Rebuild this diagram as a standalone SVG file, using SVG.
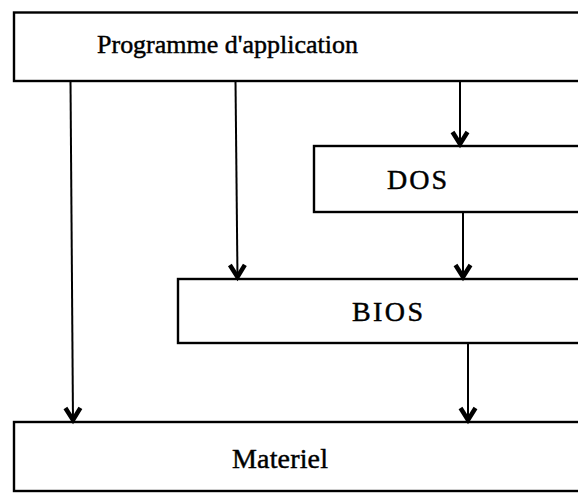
<svg xmlns="http://www.w3.org/2000/svg" width="578" height="493" viewBox="0 0 578 493">
  <style>
    .box { fill: #ffffff; stroke: #000000; stroke-width: 2.4; }
    .label { font-family: "Liberation Serif", "Times New Roman", serif; font-size: 28px; fill: #000000; stroke: #000000; stroke-width: 0.45; }
    .title { font-size: 26px; }
    .link { fill: none; stroke: #000000; stroke-width: 2; }
  </style>
  <defs>
    <!-- Thick open chevron used as the arrowhead -->
    <marker id="chevron" viewBox="-18 -11 22 22" markerUnits="userSpaceOnUse" markerWidth="22" markerHeight="22" refX="0" refY="0" orient="auto" overflow="visible">
      <path d="M -13,-7.5 L -1,0 L -13,7.5" fill="none" stroke="#000000" stroke-width="4.5" stroke-linejoin="miter"/>
    </marker>
  </defs>
  <rect width="578" height="493" fill="#ffffff"/>

  <g id="app">
    <rect class="box" x="14" y="12.5" width="600" height="68.5"/>
    <text class="label title" x="97" y="53" textLength="261" lengthAdjust="spacing">Programme  d'application</text>
  </g>

  <g id="dos">
    <rect class="box" x="314" y="146" width="300" height="66"/>
    <text class="label" x="387" y="189" textLength="60" lengthAdjust="spacing">DOS</text>
  </g>

  <g id="bios">
    <rect class="box" x="178" y="279" width="420" height="64"/>
    <text class="label" x="352" y="321" textLength="71" lengthAdjust="spacing">BIOS</text>
  </g>

  <g id="materiel">
    <rect class="box" x="14" y="422" width="600" height="69"/>
    <text class="label" x="232" y="468" textLength="96" lengthAdjust="spacing">Materiel</text>
  </g>

  <g id="connectors">
    <line class="link" x1="70.5" y1="81" x2="73" y2="421" marker-end="url(#chevron)"/>
    <line class="link" x1="235.5" y1="81" x2="237.5" y2="278" marker-end="url(#chevron)"/>
    <line class="link" x1="460" y1="81" x2="460" y2="145" marker-end="url(#chevron)"/>
    <line class="link" x1="463" y1="212" x2="463" y2="278" marker-end="url(#chevron)"/>
    <line class="link" x1="468" y1="343" x2="468" y2="421" marker-end="url(#chevron)"/>
  </g>
</svg>
